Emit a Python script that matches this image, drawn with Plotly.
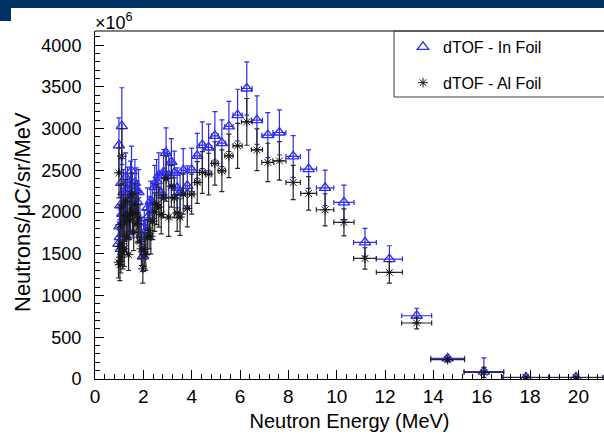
import plotly.graph_objects as go

# ---------------- data ----------------
energy = [0.97, 0.99, 1.01, 1.03, 1.05, 1.07, 1.09, 1.11, 1.13, 1.15,
          1.18, 1.21, 1.24, 1.27, 1.31, 1.35, 1.39, 1.43, 1.47, 1.51,
          1.55, 1.60, 1.65, 1.70, 1.75, 1.80, 1.86, 1.92, 1.98, 2.04,
          2.10, 2.17, 2.24, 2.31, 2.39, 2.47, 2.55, 2.64, 2.74, 2.84,
          2.94, 3.05, 3.16, 3.28, 3.40, 3.52, 3.65, 3.82, 4.00, 4.23,
          4.44, 4.70, 4.96, 5.25, 5.54, 5.90, 6.28, 6.70, 7.15, 7.63,
          8.20, 8.84, 9.52, 10.30, 11.17, 12.18, 13.31, 14.59, 16.09, 17.83,
          19.90]

energy_err = [0.012, 0.012, 0.012, 0.012, 0.012, 0.012, 0.012, 0.012, 0.012, 0.012,
              0.015, 0.015, 0.018, 0.018, 0.018, 0.018, 0.02, 0.02, 0.02, 0.022,
              0.022, 0.025, 0.025, 0.025, 0.027, 0.028, 0.03, 0.03, 0.032, 0.033,
              0.035, 0.036, 0.038, 0.04, 0.042, 0.044, 0.046, 0.05, 0.053, 0.056,
              0.06, 0.063, 0.066, 0.07, 0.074, 0.078, 0.082, 0.09, 0.10, 0.11,
              0.12, 0.13, 0.14, 0.15, 0.17, 0.19, 0.22, 0.23, 0.25, 0.27,
              0.30, 0.33, 0.36, 0.42, 0.47, 0.54, 0.62, 0.70, 0.82, 0.95,
              1.12]

in_foil = [1620, 2800, 1830, 1700, 2080, 1560, 2350, 3030, 1980, 1740,
           2240, 1880, 2110, 2420, 1930, 2270, 1720, 2150, 2330, 2490,
           2200, 2000, 2350, 2260, 2120, 2240, 1880, 1730, 1470, 1820,
           1700, 2050, 1960, 2130, 2110, 2300, 2370, 2440, 2230, 2480,
           2710, 2440, 2600, 2470, 2290, 2230, 2500, 2315, 2507, 2674,
           2802, 2774, 2914, 2826, 3026, 3162, 3481, 3102, 2922, 2954,
           2667, 2515, 2291, 2116, 1637, 1437, 758, 248, 88, 20,
           20]

in_foil_err = [200, 330, 220, 210, 250, 200, 290, 460, 240, 220,
               270, 230, 250, 290, 230, 270, 210, 260, 280, 300,
               260, 240, 280, 270, 250, 270, 220, 210, 180, 210,
               200, 240, 230, 240, 240, 260, 260, 270, 250, 270,
               300, 260, 280, 260, 240, 240, 260, 240, 260, 270,
               280, 280, 290, 280, 300, 310, 320, 290, 270, 270,
               250, 230, 212, 207, 168, 160, 90, 30, 165, 15,
               15]

al_foil = [1400, 2470, 1590, 1370, 1850, 1460, 2060, 2670, 1620, 1520,
           1960, 1560, 1880, 2130, 1700, 1950, 1490, 1900, 2010, 2210,
           1980, 1760, 2090, 1990, 1860, 1930, 1650, 1560, 1320, 1550,
           1490, 1700, 1780, 1710, 1890, 2000, 2090, 2060, 1970, 2170,
           2400, 1940, 2310, 2170, 1990, 1940, 2215, 2044, 2215, 2355,
           2475, 2455, 2583, 2495, 2674, 2794, 3081, 2746, 2595, 2614,
           2355, 2224, 2028, 1877, 1445, 1278, 671, 231, 80, 18,
           18]

al_foil_err = [190, 300, 200, 190, 230, 190, 260, 330, 210, 200,
               250, 210, 230, 260, 210, 240, 190, 230, 240, 260,
               240, 220, 250, 240, 230, 240, 210, 200, 170, 200,
               190, 210, 220, 210, 220, 230, 240, 240, 230, 240,
               270, 230, 250, 240, 220, 220, 240, 220, 240, 250,
               250, 250, 260, 250, 260, 270, 280, 250, 230, 230,
               205, 200, 192, 161, 128, 128, 70, 25, 60, 12,
               12]

x_ticks = [0, 2, 4, 6, 8, 10, 12, 14, 16, 18, 20]
y_ticks = [0, 500, 1000, 1500, 2000, 2500, 3000, 3500, 4000]

BLUE = "rgb(45,45,235)"
DARK = "rgb(40,40,40)"
NAVY = "rgb(0,50,100)"

# ---------------- layout geometry (pixels) ----------------
W, H = 604, 436
L, R, T, B = 95, 604, 31, 379
PW, PH = R - L, B - T


def px(x):
    return (x - L) / PW


def py(y):
    return (B - y) / PH


fig = go.Figure()

fig.add_trace(go.Scatter(
    x=energy, y=in_foil, mode="markers", name="dTOF - In Foil",
    legendgroup="a",
    marker=dict(symbol="triangle-up-open", size=10, color=BLUE,
                line=dict(color=BLUE, width=1.3)),
    error_y=dict(type="data", array=in_foil_err, color=BLUE, thickness=1.2, width=2.5),
    error_x=dict(type="data", array=energy_err, color=BLUE, thickness=1.2, width=2.5),
))

fig.add_trace(go.Scatter(
    x=energy, y=al_foil, mode="markers", name="dTOF - Al Foil",
    legendgroup="b",
    marker=dict(symbol="asterisk-open", size=8, color="rgb(20,20,20)",
                line=dict(color="rgb(20,20,20)", width=1.0)),
    error_y=dict(type="data", array=al_foil_err, color=DARK, thickness=1.2, width=2.5),
    error_x=dict(type="data", array=energy_err, color=DARK, thickness=1.2, width=2.5),
))

font_family = "Liberation Sans, Arial, Helvetica, sans-serif"

fig.update_layout(
    width=W, height=H,
    margin=dict(l=L, r=W - R, t=T, b=H - B, pad=0, autoexpand=False),
    paper_bgcolor="white", plot_bgcolor="white",
    font=dict(family=font_family, color="black"),
    showlegend=True,
    legend=dict(
        x=px(403), y=py(30), xanchor="left", yanchor="top",
        bgcolor="rgba(0,0,0,0)", borderwidth=0,
        font=dict(size=16, family=font_family),
        traceorder="grouped", tracegroupgap=12,
    ),
    xaxis=dict(
        range=[0, 21.06], tickvals=x_ticks, ticktext=[str(v) for v in x_ticks],
        showgrid=False, zeroline=False, automargin=False,
        showline=True, linecolor="black", linewidth=1,
        ticks="inside", ticklen=9, tickcolor="black", tickwidth=1,
        minor=dict(dtick=0.4, tick0=0, ticks="inside", ticklen=5,
                   tickcolor="black", tickwidth=1, showgrid=False),
        tickfont=dict(size=19),
        title=dict(text="Neutron Energy (MeV)", font=dict(size=20), standoff=8),
    ),
    yaxis=dict(
        range=[0, 4170], tickvals=y_ticks, ticktext=[str(v) for v in y_ticks],
        showgrid=False, zeroline=False, automargin=False,
        showline=True, linecolor="black", linewidth=1,
        ticks="inside", ticklen=9, tickcolor="black", tickwidth=1,
        minor=dict(dtick=100, tick0=0, ticks="inside", ticklen=5,
                   tickcolor="black", tickwidth=1, showgrid=False),
        tickfont=dict(size=18),
        ticklabelstandoff=9,
    ),
    shapes=[
        # slide banner
        dict(type="rect", xref="paper", yref="paper",
             x0=px(-5), x1=px(610), y0=py(8), y1=py(-5),
             fillcolor=NAVY, line=dict(width=0), layer="above"),
        dict(type="rect", xref="paper", yref="paper",
             x0=px(-5), x1=px(11), y0=py(21), y1=py(8),
             fillcolor=NAVY, line=dict(width=0), layer="above"),
        # top frame line
        dict(type="line", xref="paper", yref="paper",
             x0=0, x1=px(615), y0=1, y1=1,
             line=dict(color="black", width=1)),
        # legend box
        dict(type="rect", xref="paper", yref="paper",
             x0=px(394), x1=px(620), y0=py(97), y1=1,
             fillcolor="rgba(0,0,0,0)", line=dict(color="rgb(60,60,60)", width=1)),
    ],
    annotations=[
        dict(text="×10<sup>6</sup>", xref="paper", yref="paper",
             x=px(93), y=py(22), xanchor="left", yanchor="middle",
             showarrow=False, font=dict(size=18)),
        dict(text="Neutrons/μC/sr/MeV", xref="paper", yref="paper",
             x=px(22), y=py(212), xanchor="center", yanchor="middle",
             textangle=-90, showarrow=False, font=dict(size=22)),
    ],
)

fig.write_html(
    "out.html",
    config={"displayModeBar": False},
    post_script="document.body.style.margin='0px';document.body.style.padding='0px';",
)
